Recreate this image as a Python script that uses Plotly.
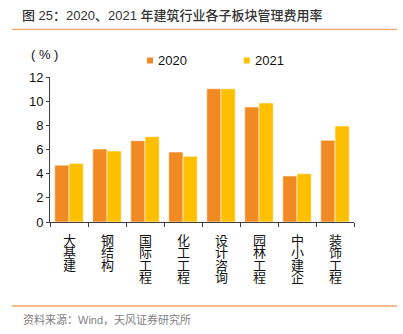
import plotly.graph_objects as go

# Sub-sector administrative expense ratio (%), 2020 vs 2021
categories = ["大基建", "钢结构", "国际工程", "化工工程", "设计咨询", "园林工程", "中小建企", "装饰工程"]
series_names = ["2020", "2021"]
values_2020 = [4.70, 6.04, 6.73, 5.79, 11.03, 9.52, 3.81, 6.76]
values_2021 = [4.85, 5.88, 7.06, 5.44, 11.02, 9.85, 4.00, 7.95]
series_colors = ["#F28A24", "#FFC000"]
y_ticks = [0, 2, 4, 6, 8, 10, 12]

W, H = 403, 334
L, R, T, B = 50, 49, 77, 112
PW, PH = W - L - R, H - T - B


def px_x(x):
    return (x - L) / PW


def px_y(y):
    return (H - B - y) / PH


fig = go.Figure()
for name, vals, col in zip(series_names, [values_2020, values_2021], series_colors):
    fig.add_trace(go.Bar(
        x=categories, y=vals, name=name, showlegend=False,
        marker=dict(color=col, line=dict(color="rgba(255,255,255,0.55)", width=1)),
    ))

font_latin = "Liberation Sans, Arial, sans-serif"
font_cjk = "Noto Sans CJK SC, sans-serif"
font_mixed = "Liberation Sans, Noto Sans CJK SC, sans-serif"

annotations = []
shapes = []

# vertical category labels, one character per row
pitch = 12.3
for cat in categories:
    for j, ch in enumerate(cat):
        annotations.append(dict(
            x=cat, xref="x", y=0, yref="y", text=ch, showarrow=False,
            xanchor="center", yanchor="middle", yshift=-(17.5 + j * pitch),
            borderpad=0,
            font=dict(family=font_cjk, size=13, color="#111111"),
        ))

# legend: small squares with labels
legend_pos = [(150, 155.5), (246.8, 252.5)]
for (sx, tx), name, col in zip(legend_pos, series_names, series_colors):
    shapes.append(dict(type="rect", xref="paper", yref="paper",
                       x0=px_x(sx - 3), x1=px_x(sx + 3),
                       y0=px_y(63.5), y1=px_y(57.5),
                       fillcolor=col, line=dict(width=0)))
    annotations.append(dict(x=px_x(tx), y=px_y(60.5), xref="paper", yref="paper",
                            text=name, showarrow=False, xanchor="left", yanchor="middle",
                            font=dict(family=font_latin, size=13, color="#111111")))

# unit label
annotations.append(dict(x=px_x(44), y=px_y(55), xref="paper", yref="paper",
                        text="( % )", showarrow=False, xanchor="center", yanchor="middle",
                        font=dict(family=font_latin, size=13, color="#111111")))

# source note
annotations.append(dict(x=px_x(21), y=px_y(319), xref="paper", yref="paper",
                        text="资料来源：Wind，天风证券研究所", showarrow=False,
                        xanchor="left", yanchor="middle",
                        font=dict(family=font_mixed, size=11, color="#7F7F7F")))

# orange rules above and below the chart
for yy in (29.3, 306):
    shapes.append(dict(type="line", xref="paper", yref="paper",
                       x0=px_x(12), x1=px_x(397), y0=px_y(yy), y1=px_y(yy),
                       line=dict(color="#F5A462", width=1.3)))

fig.update_layout(
    width=W, height=H,
    margin=dict(l=L, r=R, t=T, b=B),
    paper_bgcolor="white", plot_bgcolor="white",
    barmode="group", bargap=0.25, bargroupgap=0,
    title=dict(text="图 25：2020、2021 年建筑行业各子板块管理费用率",
               x=22 / W, xanchor="left", xref="container",
               y=1 - 15 / H, yanchor="middle", yref="container",
               font=dict(family=font_mixed, size=13, color="#333333", weight=500)),
    xaxis=dict(showline=True, linecolor="#404040", linewidth=1,
               ticks="outside", ticklen=4, tickcolor="#404040", tickson="boundaries",
               showticklabels=False, showgrid=False, zeroline=False),
    yaxis=dict(range=[0, 12], tickvals=y_ticks, showline=True, linecolor="#404040",
               linewidth=1, ticks="outside", ticklen=3, tickcolor="#404040",
               showgrid=False, zeroline=False,
               tickfont=dict(family=font_latin, size=13, color="#111111")),
    annotations=annotations, shapes=shapes,
)

fig.write_html("out.html")
